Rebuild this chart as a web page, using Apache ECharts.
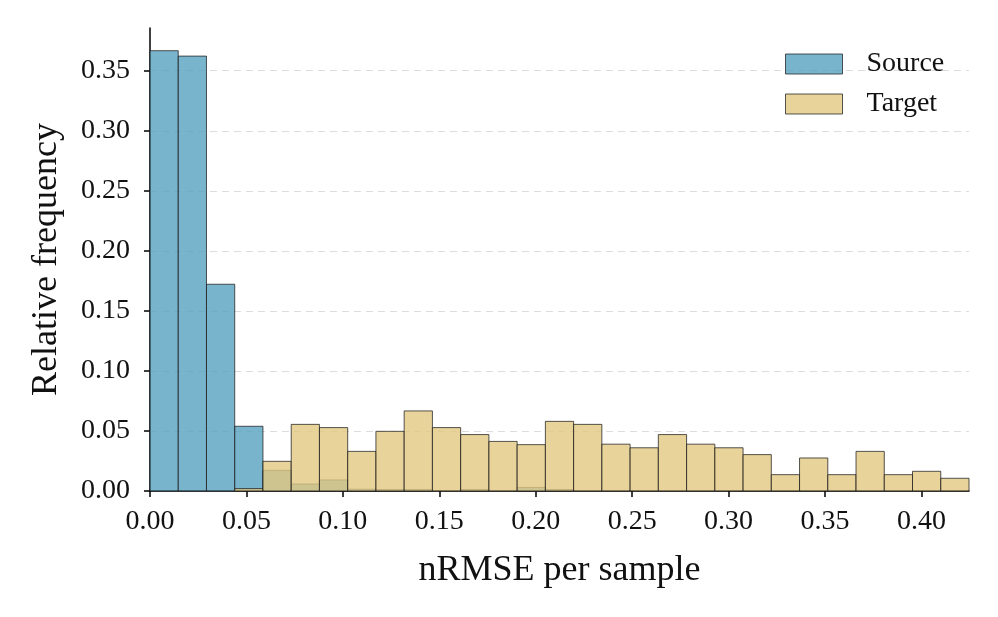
<!DOCTYPE html>
<html>
<head>
<meta charset="utf-8">
<script src="https://cdn.jsdelivr.net/npm/echarts@6/dist/echarts.min.js"></script>
<style>
html,body{margin:0;padding:0;background:#fff;}
#chart{width:998px;height:617px;}
</style>
</head>
<body>
<div id="chart"></div>
<script>
// ---- data ----
const binStart = 0;
const binWidth = 0.014643;
const sourceFreq = [0.3667, 0.3622, 0.1722, 0.0539, 0.0172, 0.0058, 0.0092, 0.0015, 0.0012, 0.0012, 0, 0.0012, 0, 0.0030, 0.0012, 0, 0, 0, 0, 0, 0, 0, 0, 0, 0, 0, 0, 0, 0];
const targetFreq = [0, 0, 0, 0.0020, 0.0247, 0.0555, 0.0528, 0.0330, 0.0497, 0.0667, 0.0528, 0.0470, 0.0413, 0.0386, 0.0580, 0.0555, 0.0390, 0.0360, 0.0470, 0.0390, 0.0360, 0.0303, 0.0136, 0.0275, 0.0136, 0.0330, 0.0136, 0.0164, 0.0106];
const xTicks = [0, 0.05, 0.10, 0.15, 0.20, 0.25, 0.30, 0.35, 0.40];
const yTicks = [0, 0.05, 0.10, 0.15, 0.20, 0.25, 0.30, 0.35];
const xMax = 0.42465;
const yMax = 0.3856;

function toRows(freq) {
  return freq.map((v, i) => [binStart + i * binWidth, binStart + (i + 1) * binWidth, v]);
}

const FONT = "'Liberation Serif', 'DejaVu Serif', serif";
const srcFill = 'rgba(88,161,192,0.8)';
const tgtFill = 'rgba(226,200,129,0.8)';
const edge = 'rgba(30,30,30,0.75)';

function makeRender(fill) {
  return function (params, api) {
    const x0 = api.value(0), x1 = api.value(1), y = api.value(2);
    if (!(y > 0)) return null;
    const p0 = api.coord([x0, y]);
    const p1 = api.coord([x1, 0]);
    return {
      type: 'rect',
      shape: { x: p0[0], y: p0[1], width: p1[0] - p0[0], height: p1[1] - p0[1] },
      style: { fill: fill, stroke: edge, lineWidth: 1 }
    };
  };
}

const chart = echarts.init(document.getElementById('chart'), null, { renderer: 'canvas' });
chart.setOption({
  animation: false,
  backgroundColor: '#ffffff',
  grid: { left: 150, right: 29, top: 28, bottom: 126 },
  legend: {
    orient: 'vertical',
    left: 780, top: 45,
    itemWidth: 57, itemHeight: 20, itemGap: 12,
    icon: 'rect',
    textStyle: { fontFamily: FONT, fontSize: 28, color: '#111', padding: [0, 0, 0, 19] },
    data: [
      { name: 'Source', itemStyle: { color: srcFill, borderColor: edge, borderWidth: 1 } },
      { name: 'Target', itemStyle: { color: tgtFill, borderColor: edge, borderWidth: 1 } }
    ]
  },
  xAxis: {
    type: 'value', min: 0, max: xMax, interval: 0.05,
    name: 'nRMSE per sample', nameLocation: 'middle', nameGap: 62,
    nameTextStyle: { fontFamily: FONT, fontSize: 36, color: '#111' },
    axisLine: { show: true, lineStyle: { color: '#000', width: 1.5 } },
    axisTick: { show: true, length: 6, lineStyle: { color: '#000', width: 1.5 }, customValues: xTicks },
    axisLabel: { fontFamily: FONT, fontSize: 28, color: '#111', margin: 17, customValues: xTicks,
      formatter: v => v.toFixed(2) },
    splitLine: { show: false }
  },
  yAxis: {
    type: 'value', min: 0, max: yMax, interval: 0.05,
    name: 'Relative frequency', nameLocation: 'middle', nameGap: 85,
    nameTextStyle: { fontFamily: FONT, fontSize: 36, color: '#111' },
    axisLine: { show: true, lineStyle: { color: '#000', width: 1.5 } },
    axisTick: { show: true, length: 6, lineStyle: { color: '#000', width: 1.5 }, customValues: yTicks },
    axisLabel: { fontFamily: FONT, fontSize: 28, color: '#111', margin: 20, customValues: yTicks,
      formatter: v => v.toFixed(2) },
    splitLine: { show: false }
  },
  series: [
    {
      name: 'Grid', type: 'line', data: [], silent: true, z: 1,
      markLine: {
        silent: true, symbol: 'none', label: { show: false }, z: 1,
        lineStyle: { color: '#dddddd', type: [7, 5], width: 1.2 },
        data: yTicks.filter(v => v > 0).map(v => ({ yAxis: v }))
      }
    },
    {
      name: 'Source', type: 'custom', renderItem: makeRender(srcFill),
      itemStyle: { color: srcFill, borderColor: edge },
      encode: { x: [0, 1], y: 2 },
      data: toRows(sourceFreq), z: 3
    },
    {
      name: 'Target', type: 'custom', renderItem: makeRender(tgtFill),
      itemStyle: { color: tgtFill, borderColor: edge },
      encode: { x: [0, 1], y: 2 },
      data: toRows(targetFreq), z: 4
    }
  ]
});
</script>
</body>
</html>
